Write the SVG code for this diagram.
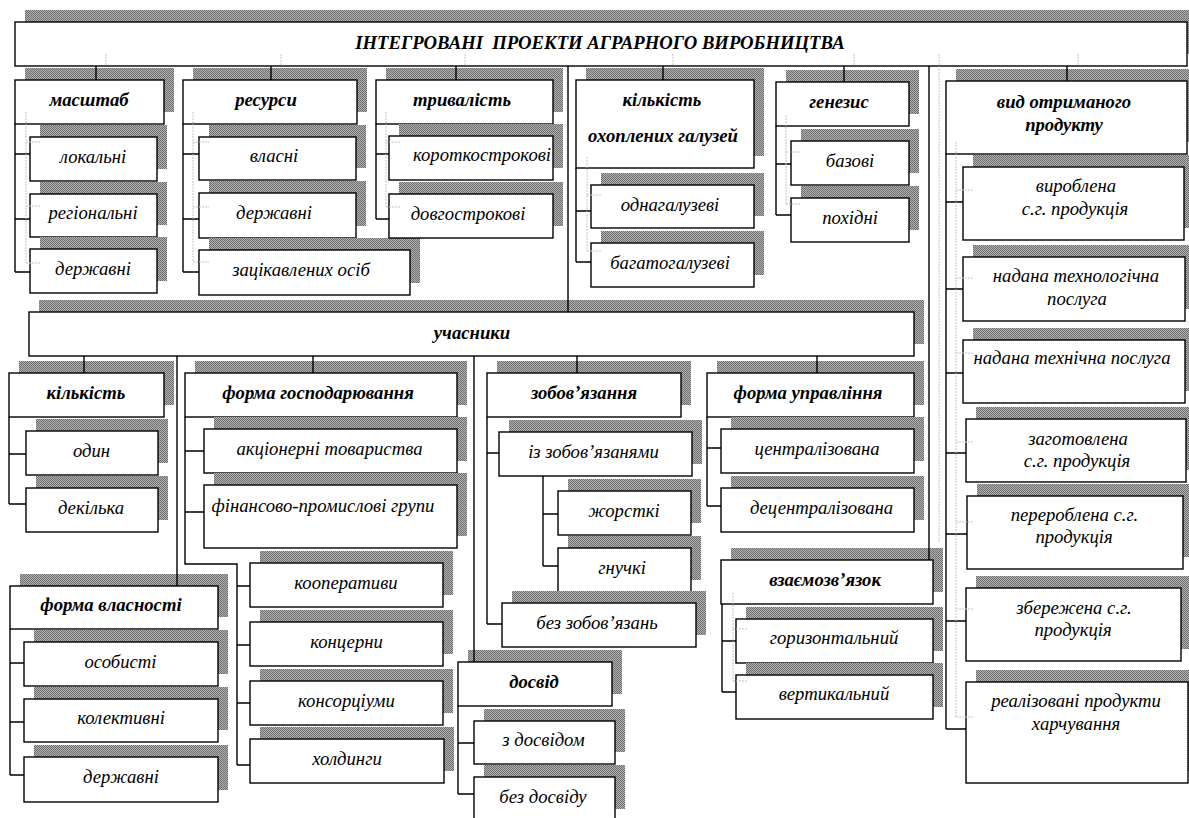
<svg xmlns="http://www.w3.org/2000/svg" width="1189" height="818" viewBox="0 0 1189 818">
<defs>
<pattern id="dots" width="2" height="2" patternUnits="userSpaceOnUse">
<rect width="2" height="2" fill="#b2b2b2"/>
<rect width="1" height="1" fill="#6e6e6e"/>
<rect x="1" y="1" width="1" height="1" fill="#6e6e6e"/>
</pattern>
<style>
.sh{fill:url(#dots)}
.bx{fill:#fff;stroke:#000;stroke-width:1.4}
.h{font-family:"Liberation Serif","Times New Roman",serif;font-weight:bold;font-style:italic;font-size:18.7px;text-anchor:middle;fill:#000}
.t{font-family:"Liberation Serif","Times New Roman",serif;font-style:italic;font-size:18.7px;text-anchor:middle;fill:#000}
.c{fill:none;stroke:#000;stroke-width:1.4}
.f{fill:none;stroke:#c4c4c4;stroke-width:1;stroke-dasharray:2 1}
</style>
</defs>
<rect width="1189" height="818" fill="#fff"/>

<g id="n-title"><rect class="sh" x="25" y="10" width="1172" height="44"/><rect class="bx" x="15" y="22" width="1172" height="44"/><text class="h" x="600" y="48.5" style="white-space:pre" xml:space="preserve">ІНТЕГРОВАНІ  ПРОЕКТИ АГРАРНОГО ВИРОБНИЦТВА</text></g>

<g id="n-masshtab"><rect class="sh" x="25" y="68" width="149" height="44"/><rect class="bx" x="15" y="80" width="149" height="44"/><text class="h" x="89" y="106">масштаб</text></g>
<g id="n-lokalni"><rect class="sh" x="40" y="125" width="127" height="44"/><rect class="bx" x="30" y="137" width="127" height="44"/><text class="t" x="93" y="162.5">локальні</text></g>
<g id="n-rehionalni"><rect class="sh" x="40" y="182" width="127" height="43"/><rect class="bx" x="30" y="194" width="127" height="43"/><text class="t" x="93" y="219">регіональні</text></g>
<g id="n-derzhavni1"><rect class="sh" x="40" y="237" width="127" height="44"/><rect class="bx" x="30" y="249" width="127" height="44"/><text class="t" x="93" y="274.5">державні</text></g>

<g id="n-resursy"><rect class="sh" x="193" y="68" width="174" height="44"/><rect class="bx" x="183" y="80" width="174" height="44"/><text class="h" x="266" y="106">ресурси</text></g>
<g id="n-vlasni"><rect class="sh" x="209" y="125" width="157" height="43"/><rect class="bx" x="199" y="137" width="157" height="43"/><text class="t" x="274" y="162">власні</text></g>
<g id="n-derzhavni2"><rect class="sh" x="209" y="181" width="157" height="45"/><rect class="bx" x="199" y="193" width="157" height="45"/><text class="t" x="274" y="219">державні</text></g>
<g id="n-zatsikavlenykh"><rect class="sh" x="209" y="238" width="211" height="45"/><rect class="bx" x="199" y="250" width="211" height="45"/><text class="t" x="301" y="276">зацікавлених осіб</text></g>

<g id="n-tryvalist"><rect class="sh" x="386" y="68" width="177" height="44"/><rect class="bx" x="376" y="80" width="177" height="44"/><text class="h" x="462" y="106">тривалість</text></g>
<g id="n-korotkostrokovi"><rect class="sh" x="399" y="124" width="164" height="44"/><rect class="bx" x="389" y="136" width="164" height="44"/><text class="t" x="482" y="161">короткострокові</text></g>
<g id="n-dovhostrokovi"><rect class="sh" x="399" y="182" width="164" height="44"/><rect class="bx" x="389" y="194" width="164" height="44"/><text class="t" x="468" y="219.5">довгострокові</text></g>

<g id="n-haluzei"><rect class="sh" x="586" y="68" width="178" height="88"/><rect class="bx" x="576" y="80" width="178" height="88"/><text class="h" x="662" y="106">кількість</text><text class="h" x="663" y="142">охоплених галузей</text></g>
<g id="n-odnahaluzevi"><rect class="sh" x="601" y="173" width="163" height="43"/><rect class="bx" x="591" y="185" width="163" height="43"/><text class="t" x="670" y="210.5">однагалузеві</text></g>
<g id="n-bahatohaluzevi"><rect class="sh" x="601" y="231" width="163" height="44"/><rect class="bx" x="591" y="243" width="163" height="44"/><text class="t" x="670" y="268.5">багатогалузеві</text></g>

<g id="n-henezys"><rect class="sh" x="786" y="70" width="133" height="44"/><rect class="bx" x="776" y="82" width="133" height="44"/><text class="h" x="839" y="108">генезис</text></g>
<g id="n-bazovi"><rect class="sh" x="801" y="129" width="118" height="44"/><rect class="bx" x="791" y="141" width="118" height="44"/><text class="t" x="850" y="166.5">базові</text></g>
<g id="n-pokhidni"><rect class="sh" x="801" y="186" width="118" height="44"/><rect class="bx" x="791" y="198" width="118" height="44"/><text class="t" x="850" y="223.5">похідні</text></g>

<g id="n-vyd"><rect class="sh" x="956" y="69" width="241" height="73"/><rect class="bx" x="946" y="81" width="241" height="73"/><text class="h" x="1064" y="108">вид отриманого</text><text class="h" x="1064" y="131">продукту</text></g>
<g id="n-vyroblena"><rect class="sh" x="973" y="155" width="221" height="73"/><rect class="bx" x="963" y="167" width="221" height="73"/><text class="t" x="1076" y="192">вироблена</text><text class="t" x="1075" y="215">с.г. продукція</text></g>
<g id="n-tekhnolohichna"><rect class="sh" x="973" y="245" width="222" height="64"/><rect class="bx" x="963" y="257" width="222" height="64"/><text class="t" x="1076" y="282">надана технологічна</text><text class="t" x="1077" y="305">послуга</text></g>
<g id="n-tekhnichna"><rect class="sh" x="973" y="328" width="222" height="63"/><rect class="bx" x="963" y="340" width="222" height="63"/><text class="t" x="1072" y="364">надана технічна послуга</text></g>
<g id="n-zahotovlena"><rect class="sh" x="976" y="407" width="220" height="63"/><rect class="bx" x="966" y="419" width="220" height="63"/><text class="t" x="1078" y="445">заготовлена</text><text class="t" x="1077" y="467">с.г. продукція</text></g>
<g id="n-pereroblena"><rect class="sh" x="977" y="484" width="216" height="73"/><rect class="bx" x="967" y="496" width="216" height="73"/><text class="t" x="1074.5" y="521">перероблена с.г.</text><text class="t" x="1074" y="542.5">продукція</text></g>
<g id="n-zberezhena"><rect class="sh" x="976" y="576" width="215" height="73"/><rect class="bx" x="966" y="588" width="215" height="73"/><text class="t" x="1074" y="613.5">збережена с.г.</text><text class="t" x="1073" y="636">продукція</text></g>
<g id="n-realizovani"><rect class="sh" x="976" y="670" width="222" height="101"/><rect class="bx" x="966" y="682" width="222" height="101"/><text class="t" x="1076" y="707">реалізовані продукти</text><text class="t" x="1076" y="729.5">харчування</text></g>

<g id="n-uchasnyky"><rect class="sh" x="39" y="300" width="885" height="44"/><rect class="bx" x="29" y="312" width="885" height="44"/><text class="h" x="472" y="339">учасники</text></g>

<g id="n-kilkist"><rect class="sh" x="19" y="361" width="155" height="44"/><rect class="bx" x="9" y="373" width="155" height="44"/><text class="h" x="86" y="398.5">кількість</text></g>
<g id="n-odyn"><rect class="sh" x="36" y="419" width="132" height="44"/><rect class="bx" x="26" y="431" width="132" height="44"/><text class="t" x="91.5" y="456.5">один</text></g>
<g id="n-dekilka"><rect class="sh" x="36" y="476" width="132" height="44"/><rect class="bx" x="26" y="488" width="132" height="44"/><text class="t" x="91" y="513.5">декілька</text></g>

<g id="n-forma-hosp"><rect class="sh" x="195" y="361" width="272" height="44"/><rect class="bx" x="185" y="373" width="272" height="44"/><text class="h" x="318" y="398.5">форма господарювання</text></g>
<g id="n-aktsionerni"><rect class="sh" x="214" y="417" width="253" height="44"/><rect class="bx" x="204" y="429" width="253" height="44"/><text class="t" x="329.5" y="454.5">акціонерні товариства</text></g>
<g id="n-finansovo"><rect class="sh" x="214" y="473" width="253" height="63"/><rect class="bx" x="204" y="485" width="253" height="63"/><text class="t" x="323" y="511.5">фінансово-промислові групи</text></g>
<g id="n-kooperatyvy"><rect class="sh" x="260" y="551" width="193" height="44"/><rect class="bx" x="250" y="563" width="193" height="44"/><text class="t" x="346" y="588.5">кооперативи</text></g>
<g id="n-kontserny"><rect class="sh" x="260" y="610" width="193" height="44"/><rect class="bx" x="250" y="622" width="193" height="44"/><text class="t" x="346.5" y="647.5">концерни</text></g>
<g id="n-konsortsiumy"><rect class="sh" x="260" y="669" width="193" height="44"/><rect class="bx" x="250" y="681" width="193" height="44"/><text class="t" x="346.5" y="706.5">консорціуми</text></g>
<g id="n-kholdynhy"><rect class="sh" x="260" y="727" width="194" height="44"/><rect class="bx" x="250" y="739" width="194" height="44"/><text class="t" x="347" y="764.5">холдинги</text></g>

<g id="n-forma-vlasnosti"><rect class="sh" x="20" y="574" width="208" height="43"/><rect class="bx" x="10" y="586" width="208" height="43"/><text class="h" x="111" y="611">форма власності</text></g>
<g id="n-osobysti"><rect class="sh" x="34" y="630" width="194" height="44"/><rect class="bx" x="24" y="642" width="194" height="44"/><text class="t" x="120.5" y="667.5">особисті</text></g>
<g id="n-kolektyvni"><rect class="sh" x="34" y="687" width="194" height="43"/><rect class="bx" x="24" y="699" width="194" height="43"/><text class="t" x="121" y="724">колективні</text></g>
<g id="n-derzhavni3"><rect class="sh" x="34" y="745" width="194" height="45"/><rect class="bx" x="24" y="757" width="194" height="45"/><text class="t" x="121" y="783">державні</text></g>

<g id="n-zobovyazannya"><rect class="sh" x="497" y="361" width="194" height="44"/><rect class="bx" x="487" y="373" width="194" height="44"/><text class="h" x="584" y="398.5">зобов’язання</text></g>
<g id="n-iz-zobov"><rect class="sh" x="509" y="420" width="193" height="44"/><rect class="bx" x="499" y="432" width="193" height="44"/><text class="t" x="593.5" y="457.5">із зобов’язанями</text></g>
<g id="n-zhorstki"><rect class="sh" x="568" y="479" width="133" height="44"/><rect class="bx" x="558" y="491" width="133" height="44"/><text class="t" x="624" y="516.5">жорсткі</text></g>
<g id="n-hnuchki"><rect class="sh" x="568" y="536" width="133" height="44"/><rect class="bx" x="558" y="548" width="133" height="44"/><text class="t" x="622" y="573.5">гнучкі</text></g>
<g id="n-bez-zobov"><rect class="sh" x="512" y="591" width="194" height="44"/><rect class="bx" x="502" y="603" width="194" height="44"/><text class="t" x="597" y="628.5">без зобов’язань</text></g>

<g id="n-dosvid"><rect class="sh" x="468" y="650" width="154" height="44"/><rect class="bx" x="458" y="662" width="154" height="44"/><text class="h" x="534" y="687.5">досвід</text></g>
<g id="n-z-dosvidom"><rect class="sh" x="484" y="709" width="141" height="43"/><rect class="bx" x="474" y="721" width="141" height="43"/><text class="t" x="543.5" y="746">з досвідом</text></g>
<g id="n-bez-dosvidu"><rect class="sh" x="484" y="765" width="141" height="44"/><rect class="bx" x="474" y="777" width="141" height="44"/><text class="t" x="543" y="802.5">без досвіду</text></g>

<g id="n-forma-upr"><rect class="sh" x="717" y="361" width="207" height="44"/><rect class="bx" x="707" y="373" width="207" height="44"/><text class="h" x="808" y="398.5">форма управління</text></g>
<g id="n-tsentr"><rect class="sh" x="731" y="417" width="193" height="44"/><rect class="bx" x="721" y="429" width="193" height="44"/><text class="t" x="817" y="455">централізована</text></g>
<g id="n-detsentr"><rect class="sh" x="731" y="476" width="193" height="44"/><rect class="bx" x="721" y="488" width="193" height="44"/><text class="t" x="821.5" y="514">децентралізована</text></g>

<g id="n-vzayemozv"><rect class="sh" x="731" y="548" width="212" height="44"/><rect class="bx" x="721" y="560" width="212" height="44"/><text class="h" x="825" y="585.5">взаємозв’язок</text></g>
<g id="n-horyz"><rect class="sh" x="746" y="607" width="197" height="44"/><rect class="bx" x="736" y="619" width="197" height="44"/><text class="t" x="834" y="643.5">горизонтальний</text></g>
<g id="n-vertyk"><rect class="sh" x="746" y="663" width="197" height="44"/><rect class="bx" x="736" y="675" width="197" height="44"/><text class="t" x="834" y="700">вертикальний</text></g>

<g id="connectors">
<path class="c" d="M96,66V80 M271,66V80 M456,66V80 M663,66V80 M844,66V82 M1067,66V81 M568,66V312 M929,66V560"/>
<path class="c" d="M15,124V272 M15,154H30 M15,219H30 M15,272H30"/>
<path class="c" d="M183,124V272 M183,154H199 M183,219H199 M183,272H199"/>
<path class="c" d="M376,124V219 M376,154H389 M376,219H389"/>
<path class="c" d="M576,168V262 M576,211H591 M576,262H591"/>
<path class="c" d="M776,126V215 M776,164H791 M776,215H791"/>
<path class="c" d="M946,154V729 M946,202H963 M946,289H963 M946,373H963 M946,453H966 M946,534H967 M946,621H966 M946,729H966"/>
<path class="c" d="M84,356V373 M313,356V373 M577,356V373 M817,356V373 M177,356V586 M474,356V662"/>
<path class="c" d="M9,417V504 M9,454H26 M9,504H26"/>
<path class="c" d="M185,417V564H237V765 M185,451H204 M185,512H204 M237,586H250 M237,645H250 M237,703H250 M237,765H250"/>
<path class="c" d="M10,629V775 M10,663H24 M10,722H24 M10,775H24"/>
<path class="c" d="M487,417V624 M487,453H499 M487,624H502"/>
<path class="c" d="M543,476V566 M543,514H558 M543,566H558"/>
<path class="c" d="M458,706V794 M458,743H474 M458,794H474"/>
<path class="c" d="M707,417V506 M707,448H721 M707,506H721"/>
<path class="c" d="M722,604V692 M722,641H736 M722,692H736"/>
<path class="f" d="M106,54V66 M281,54V66 M465,54V66 M673,54V66 M854,54V66 M1078,54V66 M939,54V543"/>
<path class="f" d="M26,112V263 M26,142H41 M26,206H41 M26,263H41"/>
<path class="f" d="M193,112V262 M193,142H209 M193,207H209 M193,262H209"/>
<path class="f" d="M386,112V207 M386,142H401 M386,207H401"/>
<path class="f" d="M587,157V251 M587,195H602 M587,251H602"/>
<path class="f" d="M786,115V204 M786,152H801 M786,204H801"/>
<path class="f" d="M956,142V717 M956,190H974 M956,278H974 M956,353H974 M956,442H974 M956,522H974 M956,609H974 M956,717H974"/>
<path class="f" d="M733,593V681 M733,629H747 M733,681H747"/>
</g>
</svg>
